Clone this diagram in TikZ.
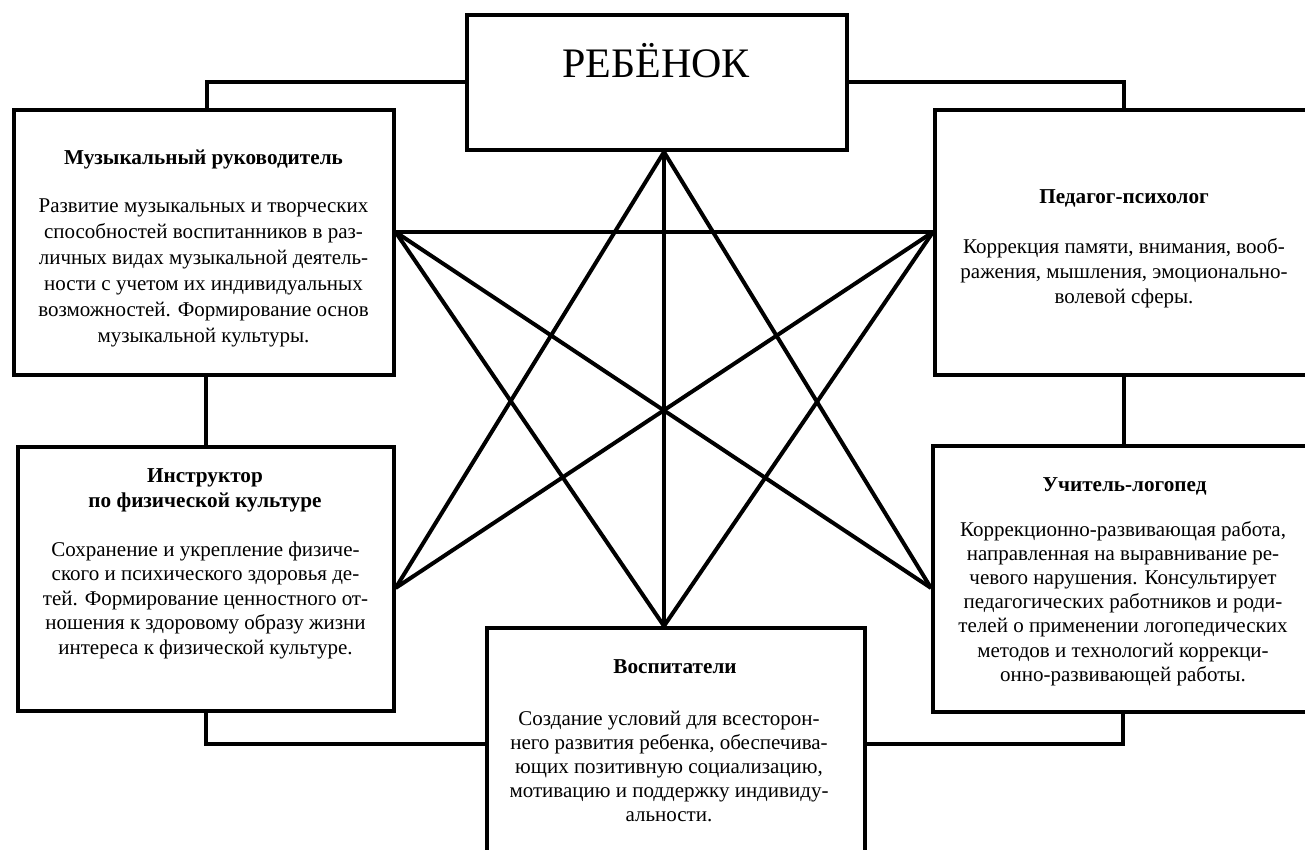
\documentclass[tikz,border=0pt]{standalone}
\usepackage{fontspec}
\setmainfont{Liberation Serif}
\begin{document}
\begin{tikzpicture}[x=1pt,y=-1pt,
  box/.style={draw, line width=4pt, inner sep=0pt},
  link/.style={line width=4pt},
  ttl/.style={font=\bfseries\fontsize{21.2}{25}\selectfont, align=center, inner sep=0pt},
  bodytext/.style={font=\fontsize{21}{#1}\selectfont, align=center, inner sep=0pt}]
\clip (0,0) rectangle (1305,850);
\fill[white] (0,0) rectangle (1305,850);

% boxes
\node[box, minimum width=380pt, minimum height=135pt] (reb) at (657,82.5) {};
\node[box, minimum width=380pt, minimum height=265pt] (muz) at (203.5,242.5) {};
\node[box, minimum width=378pt, minimum height=265pt] (ped) at (1124,242.5) {};
\node[box, minimum width=376pt, minimum height=264pt] (instr) at (205.6,579) {};
\node[box, minimum width=380pt, minimum height=266pt] (uch) at (1123,579) {};
\node[box, minimum width=378pt, minimum height=232pt] (vosp) at (676,744) {};

% frame connectors
\draw[link] ([xshift=3pt]muz.north) |- (reb.west);
\draw[link] (reb.east) -| (ped.north);
\draw[link] ([xshift=2.5pt]muz.south) -- ([xshift=2.5pt]muz.south |- instr.north);
\draw[link] (ped.south) -- (ped.south |- uch.north);
\draw[link] (instr.south) |- (vosp.west);
\draw[link] (uch.south) |- (vosp.east);

% star points
\coordinate (a) at ([xshift=7pt]reb.south);
\coordinate (v) at ([xshift=-12pt]vosp.north);
\coordinate (m) at ([yshift=10.5pt]muz.east);
\coordinate (p) at ([yshift=10.5pt]ped.west);
\coordinate (i) at ([yshift=-9pt]instr.east);
\coordinate (u) at ([yshift=-9pt]uch.west);

\draw[link] (m) -- (p);
\draw[link] (m) -- (u);
\draw[link] (m) -- (v);
\draw[link] (a) -- (i);
\draw[link] (a) -- (u);
\draw[link] (a) -- (v);
\draw[link] (p) -- (i);
\draw[link] (p) -- (v);

% texts
\node[font=\fontsize{42}{50}\selectfont, inner sep=0pt, anchor=base] (rebt) at (656,78) {РЕБЁНОК};

\node[ttl] (muzt) at (203.5,159) {Музыкальный руководитель};
\node[bodytext=26] (muzb) at (203.5,273) {Развитие музыкальных и творческих\\
способностей воспитанников в раз-\\
личных видах музыкальной деятель-\\
ности с учетом их индивидуальных\\
возможностей. Формирование основ\\
музыкальной культуры.};

\node[ttl] (pedt) at (1124,198) {Педагог-психолог};
\node[bodytext=25] (pedb) at (1124,273) {Коррекция памяти, внимания, вооб-\\
ражения, мышления, эмоционально-\\
волевой сферы.};

\node[ttl] (instrt) at (205,490.5) {Инструктор\\по физической культуре};
\node[bodytext=24.5] (instrb) at (205.5,600) {Сохранение и укрепление физиче-\\
ского и психического здоровья де-\\
тей. Формирование ценностного от-\\
ношения к здоровому образу жизни\\
интереса к физической культуре.};

\node[ttl] (ucht) at (1124.5,486) {Учитель-логопед};
\node[bodytext=24.2] (uchb) at (1123,603.5) {Коррекционно-развивающая работа,\\
направленная на выравнивание ре-\\
чевого нарушения. Консультирует\\
педагогических работников и роди-\\
телей о применении логопедических\\
методов и технологий коррекци-\\
онно-развивающей работы.};

\node[ttl] (vospt) at (675,667) {Воспитатели};
\node[bodytext=24] (vospb) at (669,766) {Создание условий для всесторон-\\
него развития ребенка, обеспечива-\\
ющих позитивную социализацию,\\
мотивацию и поддержку индивиду-\\
альности.};
\end{tikzpicture}
\end{document}
